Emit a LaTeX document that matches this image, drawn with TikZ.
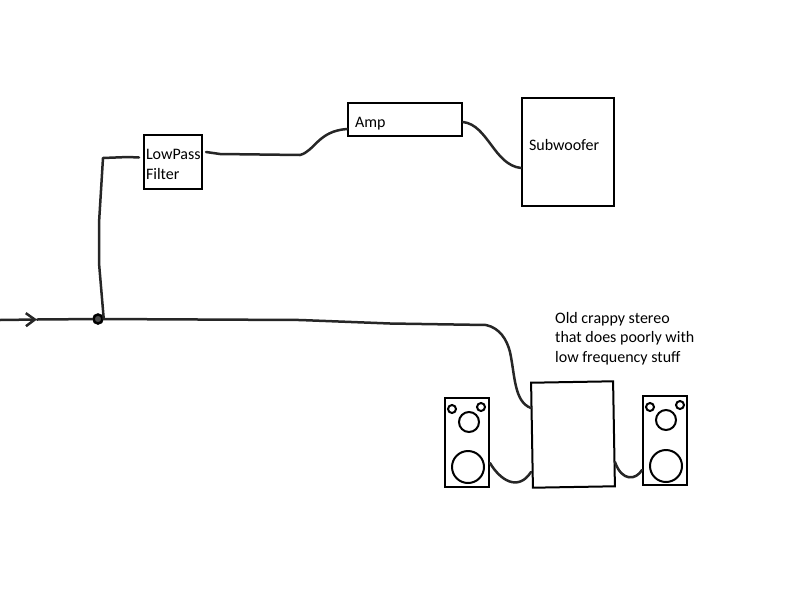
\documentclass[tikz,border=0pt]{standalone}
\usepackage{fontspec}
\setmainfont{Carlito}
\usetikzlibrary{arrows.meta}
\tikzset{
  hbox/.style={draw=black, line width=2pt, fill=white, inner ysep=0pt, align=left, font=\fontsize{16}{20}\selectfont},
  wire/.style={draw=black!85, line width=2.5pt, line cap=round, line join=round},
  cone/.style={circle, draw=black, line width=2pt, inner sep=0pt},
}
\begin{document}
\begin{tikzpicture}[x=1pt,y=-1pt,>={Straight Barb[length=9pt,width=13pt]}]
  \useasboundingbox (0,0) rectangle (800,600);

  % boxes of the filter chain
  \node[hbox, minimum height=54pt, inner xsep=2pt, text width=54pt] (filter) at (173,161.5) {\rule{0pt}{16pt}LowPass\\Filter};
  \node[hbox, minimum height=33pt, inner xsep=7pt, text width=100pt, text height=18.5pt] (amp) at (405,119.5) {Amp};
  \node[hbox, minimum height=108pt, inner xsep=7pt, text width=78pt, text depth=14pt] (sub) at (568,152) {Subwoofer};

  % stereo and its two speakers
  \node[hbox, minimum width=82pt, minimum height=105pt, rotate=1] (stereo) at (573,434.5) {};
  \node[hbox, minimum width=44pt, minimum height=89pt] (spkL) at (467,442.5) {};
  \node[hbox, minimum width=44pt, minimum height=89pt] (spkR) at (665,440.5) {};
  \node[align=left, anchor=north west, inner sep=0pt, font=\fontsize{16}{19.5}\selectfont] (caption) at (555,312)
    {Old crappy stereo\\that does poorly with\\low frequency stuff};

  % speaker cones
  \node[cone, minimum size=8pt]  (tweetLa) at (452,409) {};
  \node[cone, minimum size=8pt]  (tweetLb) at (481,407) {};
  \node[cone, minimum size=20pt] (midL)    at (469,422) {};
  \node[cone, minimum size=32pt] (wooferL) at (468,467) {};
  \node[cone, minimum size=8pt]  (tweetRa) at (650,407) {};
  \node[cone, minimum size=8pt]  (tweetRb) at (680,405) {};
  \node[cone, minimum size=20pt] (midR)    at (666,420) {};
  \node[cone, minimum size=32pt] (wooferR) at (666,466) {};

  % input line
  \coordinate (input) at (0,320);
  \coordinate (arrowhead) at (37,319.5);
  \node[circle, draw=black, fill=black!70, line width=2.5pt, inner sep=0pt, minimum size=9pt] (tap) at (98,319) {};
  \draw[wire,->] (input) -- (arrowhead);
  \draw[wire] (arrowhead) -- (tap);
  \draw[wire] (tap) -- (300,320) -- (390,323.5) -- (486,325)
    .. controls (500,328) and (507,340) .. (510,352)
    .. controls (515,375) and (514,402) .. (stereo.west |- 0,408);

  % branch to the filter chain
  \draw[wire] (tap.east) -- (99,263) -- (99,223) -- (103,158) -- (128,157) -- ([shift={(-4pt,4pt)}]filter.west);
  \draw[wire] ([shift={(3pt,9.5pt)}]filter.east) -- (220,154) -- (300,155)
    .. controls (315,151) and (318,131) .. ([yshift=-9.5pt]amp.west);
  \draw[wire] ([yshift=-2.5pt]amp.east)
    .. controls (488,125) and (494,165) .. (sub.west |- 0,168);

  % stereo to speakers
  \draw[wire] (spkL.east |- 0,463) .. controls (500,480) and (518,492) .. (stereo.west |- 0,472);
  \draw[wire] (stereo.east |- 0,462) .. controls (622,482) and (636,480) .. (spkR.west |- 0,470);
\end{tikzpicture}
\end{document}
